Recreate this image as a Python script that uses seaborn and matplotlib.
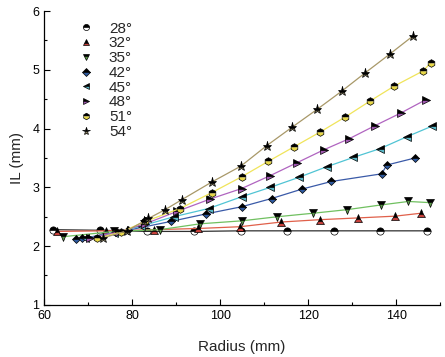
import numpy as np
import pandas as pd
import matplotlib
matplotlib.use("Agg")
import matplotlib.pyplot as plt
from matplotlib.lines import Line2D
from matplotlib.ticker import MultipleLocator
import seaborn as sns

# angles and their readings (radius mm, IL mm)
labels = ["28°", "32°", "35°", "42°", "45°", "48°", "51°", "54°"]

r28 = [62.0, 72.6, 83.4, 94.0, 104.7, 115.2, 125.8, 136.4, 147.1]
il28 = [2.28, 2.27, 2.25, 2.25, 2.26, 2.26, 2.26, 2.26, 2.26]

r32 = [63.0, 74.0, 85.0, 95.0, 104.5, 113.9, 122.7, 131.4, 139.8, 145.7]
il32 = [2.25, 2.26, 2.28, 2.30, 2.33, 2.41, 2.45, 2.48, 2.51, 2.56]

r35 = [64.3, 76.0, 86.3, 95.5, 104.9, 113.0, 121.2, 128.8, 136.5, 142.8, 147.7]
il35 = [2.16, 2.25, 2.28, 2.38, 2.43, 2.50, 2.56, 2.62, 2.70, 2.76, 2.74]

r42 = [67.3, 68.6, 79.0, 88.8, 96.9, 104.9, 111.7, 118.6, 125.3, 136.7, 137.9, 144.3]
il42 = [2.12, 2.13, 2.27, 2.42, 2.55, 2.67, 2.81, 2.97, 3.10, 3.23, 3.38, 3.50]

r45 = [69.3, 76.0, 82.0, 89.5, 97.4, 104.9, 111.4, 117.9, 124.2, 130.3, 136.4, 142.4, 148.1]
il45 = [2.13, 2.22, 2.34, 2.50, 2.64, 2.84, 3.00, 3.17, 3.35, 3.51, 3.66, 3.86, 4.04]

r48 = [70.5, 77.0, 83.0, 90.2, 97.7, 104.9, 111.4, 117.5, 123.6, 129.4, 135.2, 141.2, 146.7]
il48 = [2.14, 2.24, 2.38, 2.59, 2.80, 2.98, 3.20, 3.42, 3.64, 3.83, 4.05, 4.27, 4.49]

r51 = [72.0, 77.5, 83.0, 90.9, 98.1, 104.9, 110.9, 116.8, 122.7, 128.5, 134.1, 139.5, 146.1, 147.9]
il51 = [2.13, 2.24, 2.42, 2.64, 2.91, 3.18, 3.44, 3.69, 3.94, 4.20, 4.47, 4.72, 4.98, 5.12]

r54 = [73.5, 78.8, 82.6, 83.7, 87.5, 91.3, 98.1, 104.7, 110.6, 116.3, 122.1, 127.7, 133.0, 138.6, 143.9]
il54 = [2.14, 2.26, 2.42, 2.47, 2.62, 2.79, 3.09, 3.36, 3.71, 4.02, 4.33, 4.64, 4.95, 5.27, 5.58]

radii = [r28, r32, r35, r42, r45, r48, r51, r54]
ils = [il28, il32, il35, il42, il45, il48, il51, il54]

line_colors = ["#303030", "#e0604a", "#70c060", "#3a5aa8", "#50c4d4", "#b064c0", "#f0e45a", "#a89868"]
fill_colors = ["white", "#c8403a", "#5a9a48", "#2e5aa0", "#58b8c8", "#a058b0", "#e8d848", "#8a8060"]
markers = ["o", "^", "v", "D", "<", ">", "h", "*"]
sizes = [5.2, 5.5, 5.5, 4.5, 5.5, 5.5, 5.5, 6.8]

sns.set_style("white")
plt.rcParams["font.family"] = ["Liberation Sans", "DejaVu Sans"]

fig = plt.figure(figsize=(4.45, 3.57), dpi=100)
ax = fig.add_axes([0.099, 0.146, 0.89, 0.823])

handles = []
for i, lab in enumerate(labels):
    df = pd.DataFrame({"Radius": radii[i], "IL": ils[i]})
    mk = dict(marker=markers[i], markersize=sizes[i], fillstyle="top",
              markerfacecolor="black", markerfacecoloralt=fill_colors[i],
              markeredgecolor="black", markeredgewidth=0.5)
    sns.lineplot(data=df, x="Radius", y="IL", ax=ax, color=line_colors[i],
                 linewidth=0.9, sort=True, **mk)
    handles.append(Line2D([], [], linestyle="none", label=lab, **mk))

ax.set_xlim(60, 150)
ax.set_ylim(1, 6)
ax.xaxis.set_major_locator(MultipleLocator(20))
ax.xaxis.set_minor_locator(MultipleLocator(10))
ax.yaxis.set_major_locator(MultipleLocator(1))
ax.yaxis.set_minor_locator(MultipleLocator(0.5))
ax.tick_params(which="both", direction="in", colors="black", labelsize=9)
ax.tick_params(which="major", length=4, width=0.8, left=True, bottom=True)
ax.tick_params(which="minor", length=2.5, width=0.8, left=True, bottom=True)
for s in ["top", "right"]:
    ax.spines[s].set_visible(False)
for s in ["left", "bottom"]:
    ax.spines[s].set_color("black")
    ax.spines[s].set_linewidth(0.9)

ax.set_xlabel("Radius (mm)", fontsize=11, labelpad=13)
ax.set_ylabel("IL (mm)", fontsize=11, labelpad=6)

ax.legend(handles=handles, loc="upper left", bbox_to_anchor=(0.075, 0.985),
          frameon=False, fontsize=11, handlelength=0.8, handletextpad=1.1,
          labelspacing=0.05, borderaxespad=0, markerscale=0.85)

fig.savefig("out.png", dpi=100)
